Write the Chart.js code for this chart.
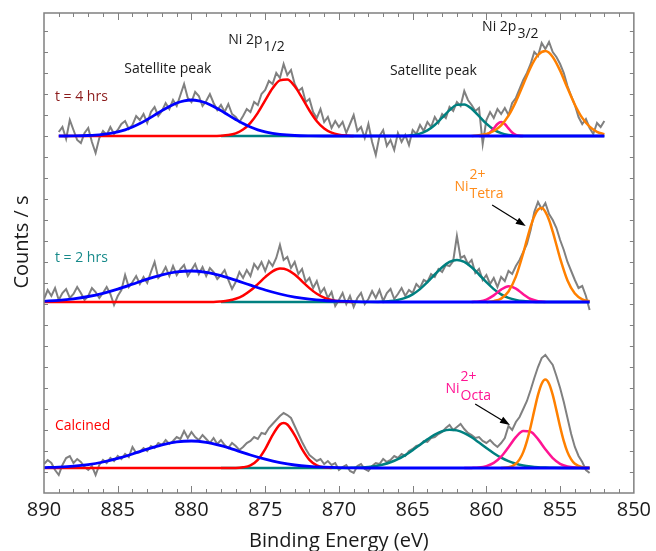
<!DOCTYPE html>
<html>
<head>
<meta charset="utf-8">
<title>Ni 2p XPS</title>
<script src="https://cdn.jsdelivr.net/npm/chart.js@4.4.1/dist/chart.umd.min.js"></script>
<style>
  body { margin: 0; background: #fff; }
  canvas { display: block; }
</style>
</head>
<body>
<canvas id="xpsChart" width="656" height="551"></canvas>
<script>
// Binding energies of the measured points (eV), 0.25 eV steps
var energyTop = [889, 888.75, 888.5, 888.25, 888, 887.75, 887.5, 887.25, 887, 886.75, 886.5, 886.25, 886, 885.75, 885.5, 885.25, 885, 884.75, 884.5, 884.25, 884, 883.75, 883.5, 883.25, 883, 882.75, 882.5, 882.25, 882, 881.75, 881.5, 881.25, 881, 880.75, 880.5, 880.25, 880, 879.75, 879.5, 879.25, 879, 878.75, 878.5, 878.25, 878, 877.75, 877.5, 877.25, 877, 876.75, 876.5, 876.25, 876, 875.75, 875.5, 875.25, 875, 874.75, 874.5, 874.25, 874, 873.75, 873.5, 873.25, 873, 872.75, 872.5, 872.25, 872, 871.75, 871.5, 871.25, 871, 870.75, 870.5, 870.25, 870, 869.75, 869.5, 869.25, 869, 868.75, 868.5, 868.25, 868, 867.75, 867.5, 867.25, 867, 866.75, 866.5, 866.25, 866, 865.75, 865.5, 865.25, 865, 864.75, 864.5, 864.25, 864, 863.75, 863.5, 863.25, 863, 862.75, 862.5, 862.25, 862, 861.75, 861.5, 861.25, 861, 860.75, 860.5, 860.25, 860, 859.75, 859.5, 859.25, 859, 858.75, 858.5, 858.25, 858, 857.75, 857.5, 857.25, 857, 856.75, 856.5, 856.25, 856, 855.75, 855.5, 855.25, 855, 854.75, 854.5, 854.25, 854, 853.75, 853.5, 853.25, 853, 852.75, 852.5, 852.25, 852];
var energyLow = [890, 889.75, 889.5, 889.25, 889, 888.75, 888.5, 888.25, 888, 887.75, 887.5, 887.25, 887, 886.75, 886.5, 886.25, 886, 885.75, 885.5, 885.25, 885, 884.75, 884.5, 884.25, 884, 883.75, 883.5, 883.25, 883, 882.75, 882.5, 882.25, 882, 881.75, 881.5, 881.25, 881, 880.75, 880.5, 880.25, 880, 879.75, 879.5, 879.25, 879, 878.75, 878.5, 878.25, 878, 877.75, 877.5, 877.25, 877, 876.75, 876.5, 876.25, 876, 875.75, 875.5, 875.25, 875, 874.75, 874.5, 874.25, 874, 873.75, 873.5, 873.25, 873, 872.75, 872.5, 872.25, 872, 871.75, 871.5, 871.25, 871, 870.75, 870.5, 870.25, 870, 869.75, 869.5, 869.25, 869, 868.75, 868.5, 868.25, 868, 867.75, 867.5, 867.25, 867, 866.75, 866.5, 866.25, 866, 865.75, 865.5, 865.25, 865, 864.75, 864.5, 864.25, 864, 863.75, 863.5, 863.25, 863, 862.75, 862.5, 862.25, 862, 861.75, 861.5, 861.25, 861, 860.75, 860.5, 860.25, 860, 859.75, 859.5, 859.25, 859, 858.75, 858.5, 858.25, 858, 857.75, 857.5, 857.25, 857, 856.75, 856.5, 856.25, 856, 855.75, 855.5, 855.25, 855, 854.75, 854.5, 854.25, 854, 853.75, 853.5, 853.25, 853];

// Measured counts above each spectrum's own baseline
var countsT4 = [4, 9, -3, 16, 6, -4, -7, 3, 8, -6, -17, -2, 5, 1, 9, 2, 6, 12, 15, 7, 11, 20, 16, 22, 13, 24, 29, 20, 25, 33, 27, 36, 30, 41, 52, 38, 34, 44, 40, 30, 35, 42, 33, 26, 31, 24, 32, 22, 19, 14, 20, 27, 24, 34, 31, 42, 46, 55, 52, 63, 58, 72, 61, 66, 52, 45, 48, 34, 37, 24, 18, 27, 14, 19, 8, 15, 9, 14, 3, 12, 21, 5, 9, -2, 12, -6, -19, 0, 6, -10, -4, -14, 3, -6, 1, -9, 6, 2, 11, 5, 14, 9, 19, 13, 22, 18, 29, 25, 34, 30, 45, 36, 31, 25, 28, -8, 16, 24, 18, 27, 22, 28, 21, 33, 38, 47, 56, 63, 72, 84, 80, 93, 87, 94, 84, 79, 72, 63, 50, 40, 31, 19, 12, 17, 8, 2, 13, 9, 15];
var countsT2 = [3, 12, 6, 14, 2, 9, 13, 4, 8, 15, 9, 2, 6, 14, 10, 4, 9, 15, 8, -3, 6, 12, 27, 15, 20, 26, 18, 25, 19, 30, 40, 24, 28, 35, 26, 36, 27, 33, 37, 26, 32, 38, 28, 35, 26, 34, 30, 23, 27, 32, 22, 13, 20, 30, 24, 32, 26, 38, 33, 40, 31, 41, 36, 44, 57, 42, 45, 34, 40, 28, 33, 20, 24, 14, 21, 9, 14, 4, 10, -4, 2, 9, -2, 6, -5, 4, 9, -2, 3, 11, 4, 12, 1, 9, 13, 3, 8, 14, 6, 12, 9, 18, 14, 22, 20, 28, 25, 33, 30, 37, 36, 41, 66, 44, 46, 38, 42, 29, 33, 22, 27, 18, 24, 15, 25, 21, 31, 28, 36, 42, 50, 58, 72, 90, 100, 93, 99, 88, 82, 74, 62, 52, 40, 31, 22, 14, 16, 6, -8];
var countsCalc = [4, 8, 5, -2, -7, 3, 10, 12, 5, 9, 6, 1, -2, 2, -7, 3, 8, 5, 10, 7, 12, 9, 14, 11, 21, 15, 16, 20, 17, 22, 20, 25, 23, 28, 24, 27, 31, 29, 37, 30, 36, 31, 28, 33, 29, 25, 30, 24, 28, 23, 20, 25, 22, 18, 21, 25, 27, 31, 29, 35, 34, 40, 44, 48, 52, 55, 53, 50, 42, 34, 26, 19, 13, 10, 7, 9, 4, 7, 3, 5, -2, 1, 3, -3, -5, 2, 4, -1, -3, 2, 5, 4, 9, 6, 8, 12, 10, 14, 12, 17, 19, 22, 23, 27, 26, 30, 31, 34, 36, 40, 43, 38, 41, 44, 39, 35, 33, 30, 31, 27, 25, 28, 24, 21, 25, 30, 42, 38, 46, 51, 59, 67, 78, 90, 101, 110, 113, 108, 103, 92, 80, 66, 50, 34, 21, 12, 6, -2, -5];

// Vertical offset of each spectrum in the stack
var offsets = [357, 191, 25];

// Fitted components, t = 4 hrs
var t4SatAE = [889, 888, 887, 886.5, 886, 885.5, 885, 884.5, 884, 883.5, 883, 882.5, 882, 881.5, 881, 880.5, 880, 879.5, 879, 878.5, 878, 877.5, 877, 876.5, 876, 875.5, 875, 874.5, 874, 873, 872, 871, 852];
var t4SatA = [0, 0.1, 0.5, 0.9, 1.6, 2.6, 4.1, 6.2, 9.0, 12.4, 16.5, 20.9, 25.4, 29.6, 33.0, 35.2, 36.0, 35.2, 33.0, 29.6, 25.4, 20.9, 16.5, 12.4, 9.0, 6.2, 4.1, 2.6, 1.6, 0.5, 0.1, 0, 0];
var t4P12E = [889, 878.5, 878, 877.5, 877, 876.5, 876, 875.5, 875, 874.5, 874, 873.5, 873, 872.5, 872, 871.5, 871, 870.5, 870, 869.5, 869];
var t4P12 = [0, 0, 0.3, 1.0, 2.7, 6.4, 13.1, 23.1, 35.6, 47.7, 55.6, 56.4, 49.7, 38.2, 25.5, 14.8, 7.5, 3.3, 1.3, 0.4, 0];
var t4SatBE = [878, 865.5, 865, 864.5, 864, 863.5, 863, 862.5, 862, 861.5, 861, 860.5, 860, 859.5, 859, 858.5, 858, 857.5, 852];
var t4SatB = [0, 0, 0.9, 2.4, 5.6, 11.0, 18.3, 25.9, 31.1, 31.6, 27.2, 19.9, 12.3, 6.4, 2.9, 1.1, 0.4, 0, 0];
var t4OctE = [860.5, 860.25, 860, 859.75, 859.5, 859.25, 859, 858.75, 858.5, 858.25, 858, 857.75, 857.5];
var t4Oct = [0, 0.3, 1.2, 3.5, 7.6, 12.0, 14.0, 12.0, 7.6, 3.5, 1.2, 0.3, 0];
var t4TetE = [861, 860.5, 860, 859.5, 859, 858.5, 858, 857.5, 857, 856.5, 856, 855.5, 855, 854.5, 854, 853.5, 853, 852.5, 852];
var t4Tet = [0, 0.8, 2.1, 5.0, 10.7, 20.4, 34.4, 51.5, 68.6, 81.0, 85.0, 79.1, 65.4, 48.0, 31.3, 18.1, 9.3, 4.2, 1.7];

// Fitted components, t = 2 hrs
var t2SatAE = [890, 889, 888, 887, 886, 885, 884, 883, 882, 881, 880, 879, 878, 877, 876, 875, 874, 873, 872, 871, 870, 869, 868, 867, 853];
var t2SatA = [0.9, 1.7, 3.2, 5.5, 8.7, 12.9, 17.8, 22.8, 27.2, 30.1, 31.0, 29.7, 26.4, 21.8, 16.8, 12.0, 8.0, 4.9, 2.8, 1.5, 0.8, 0.3, 0.1, 0, 0];
var t2P12E = [890, 878.5, 878, 877.5, 877, 876.5, 876, 875.5, 875, 874.5, 874, 873.5, 873, 872.5, 872, 871.5, 871, 870.5, 870, 869.5, 869];
var t2P12 = [0, 0, 0.5, 1.4, 3.2, 6.4, 11.4, 17.9, 24.9, 30.7, 33.4, 32.2, 27.5, 20.7, 13.9, 8.2, 4.3, 2.0, 0.8, 0.3, 0];
var t2SatBE = [878, 867.5, 867, 866.5, 866, 865.5, 865, 864.5, 864, 863.5, 863, 862.5, 862, 861.5, 861, 860.5, 860, 859.5, 859, 858.5, 858, 857.5, 857, 856.5, 853];
var t2SatB = [0, 0, 0.4, 0.9, 2.1, 4.2, 7.7, 12.9, 19.8, 27.5, 34.8, 40.1, 42.0, 40.1, 34.8, 27.5, 19.8, 12.9, 7.7, 4.2, 2.1, 0.9, 0.4, 0, 0];
var t2OctE = [861, 860.5, 860, 859.5, 859, 858.5, 858, 857.5, 857, 856.5, 856];
var t2Oct = [0, 0.6, 2.4, 6.6, 12.4, 15.7, 13.4, 7.8, 3.0, 0.8, 0];
var t2TetE = [860, 859.5, 859, 858.5, 858, 857.5, 857.25, 857, 856.75, 856.5, 856.25, 856, 855.75, 855.5, 855.25, 855, 854.5, 854, 853.5, 853];
var t2Tet = [0, 0.9, 3.4, 10.5, 25.4, 48.9, 62.4, 75.3, 85.8, 92.3, 94.0, 90.2, 82.0, 70.3, 57.0, 43.7, 21.6, 8.5, 2.7, 0.7];

// Fitted components, calcined
var cSatAE = [890, 889, 888, 887, 886, 885, 884, 883, 882, 881, 880, 879, 878, 877, 876, 875, 874, 873, 872, 871, 870, 869, 868, 853];
var cSatA = [0.4, 0.9, 1.8, 3.4, 6.0, 9.6, 14.0, 18.8, 23.1, 26.1, 27.0, 25.6, 22.3, 17.8, 13.0, 8.8, 5.4, 3.0, 1.6, 0.8, 0.3, 0.1, 0, 0];
var cP12E = [890, 877, 876.5, 876, 875.5, 875, 874.5, 874, 873.75, 873.5, 873, 872.5, 872, 871.5, 871, 870.5];
var cP12 = [0, 0, 0.7, 2.7, 8.2, 18.9, 32.9, 43.5, 45.0, 43.5, 32.9, 18.9, 8.2, 2.7, 0.7, 0];
var cSatBE = [878, 869.5, 869, 868.5, 868, 867.5, 867, 866.5, 866, 865.5, 865, 864.5, 864, 863.5, 863, 862.5, 862, 861.5, 861, 860.5, 860, 859.5, 859, 858.5, 858, 857.5, 857, 856.5, 856, 855.5, 853];
var cSatB = [0, 0, 0.3, 0.6, 1.1, 2.0, 3.5, 5.7, 8.8, 12.9, 17.8, 23.2, 28.6, 33.4, 36.8, 38.3, 37.6, 34.9, 30.7, 25.4, 19.9, 14.8, 10.3, 6.8, 4.3, 2.5, 1.4, 0.7, 0.4, 0.2, 0];
var cOctE = [861.5, 861, 860.5, 860, 859.5, 859, 858.5, 858, 857.5, 857, 856.5, 856, 855.5, 855, 854.5, 854, 853.5, 853];
var cOct = [0, 0.1, 0.5, 1.9, 5.1, 11.4, 20.8, 30.8, 37.1, 36.3, 28.9, 18.7, 9.9, 4.2, 1.5, 0.4, 0.1, 0];
var cTetE = [859, 858.5, 858.25, 858, 857.75, 857.5, 857.25, 857, 856.75, 856.5, 856.25, 856, 855.75, 855.5, 855.25, 855, 854.75, 854.5, 854.25, 854, 853.5, 853];
var cTet = [0, 0.8, 1.9, 4.2, 8.6, 15.9, 26.9, 41.3, 57.6, 73.1, 84.3, 88.4, 84.3, 73.1, 57.6, 41.3, 26.9, 15.9, 8.6, 4.2, 0.8, 0.1];

var FONT = "'Open Sans', 'Noto Sans', sans-serif";

// component colours; lower order is drawn on top
var fitStyle = {
  satA: { color: "#0000ff", order: 0, width: 2.8 },
  p12: { color: "#ff0000", order: 1, width: 2.5 },
  tet: { color: "#ff8000", order: 2, width: 2.5 },
  oct: { color: "#ff1493", order: 3, width: 2.5 },
  satB: { color: "#008080", order: 4, width: 2.5 },
};

function toPoints(es, vs, base) {
  if (es.length !== vs.length) throw new Error("length mismatch " + es.length + " vs " + vs.length);
  return es.map(function (e, i) {
    return { x: e, y: vs[i] + base };
  });
}

var datasets = [];

function addSpectrum(es, counts, base, fits) {
  datasets.push({
    data: toPoints(es, counts, base),
    borderColor: "#808080",
    borderWidth: 2,
    pointRadius: 0,
    tension: 0,
    order: 5,
  });
  Object.keys(fits).forEach(function (k) {
    var f = fits[k];
    datasets.push({
      data: toPoints(f[0], f[1], base),
      borderColor: fitStyle[k].color,
      borderWidth: fitStyle[k].width,
      pointRadius: 0,
      cubicInterpolationMode: "monotone",
      order: fitStyle[k].order,
    });
  });
}

addSpectrum(energyTop, countsT4, offsets[0], {
  satB: [t4SatBE, t4SatB], oct: [t4OctE, t4Oct], tet: [t4TetE, t4Tet],
  p12: [t4P12E, t4P12], satA: [t4SatAE, t4SatA],
});
addSpectrum(energyLow, countsT2, offsets[1], {
  satB: [t2SatBE, t2SatB], oct: [t2OctE, t2Oct], tet: [t2TetE, t2Tet],
  p12: [t2P12E, t2P12], satA: [t2SatAE, t2SatA],
});
addSpectrum(energyLow, countsCalc, offsets[2], {
  satB: [cSatBE, cSatB], oct: [cOctE, cOct], tet: [cTetE, cTet],
  p12: [cP12E, cP12], satA: [cSatAE, cSatA],
});

// text placed in data units (eV, stacked counts)
var plainNotes = [
  ["Satellite peak", 884.55, 420, "#1a1a1a"],
  ["Satellite peak", 866.54, 418, "#1a1a1a"],
  ["t = 4 hrs", 889.26, 392, "#8b1a1a"],
  ["t = 2 hrs", 889.26, 231, "#178a8a"],
  ["Calcined", 889.26, 63, "#ff0000"],
];
var orbitalNotes = [
  ["Ni 2p", "1/2", 877.5, 449],
  ["Ni 2p", "3/2", 860.29, 462],
];
var ionNotes = [
  ["Tetra", 862.17, 302, "#ff8c1a", [859.61, 288, 857.33, 267]],
  ["Octa", 862.77, 100, "#ff1493", [860.76, 89, 858.4, 68]],
];

function arrow(ctx, x1, y1, x2, y2) {
  var ang = Math.atan2(y2 - y1, x2 - x1);
  ctx.strokeStyle = "#000";
  ctx.fillStyle = "#000";
  ctx.lineWidth = 1.2;
  ctx.beginPath();
  ctx.moveTo(x1, y1);
  ctx.lineTo(x2 - 6 * Math.cos(ang), y2 - 6 * Math.sin(ang));
  ctx.stroke();
  ctx.beginPath();
  ctx.moveTo(x2, y2);
  ctx.lineTo(x2 - 10 * Math.cos(ang) + 3.5 * Math.sin(ang), y2 - 10 * Math.sin(ang) - 3.5 * Math.cos(ang));
  ctx.lineTo(x2 - 10 * Math.cos(ang) - 3.5 * Math.sin(ang), y2 - 10 * Math.sin(ang) + 3.5 * Math.cos(ang));
  ctx.closePath();
  ctx.fill();
}

var decorations = {
  id: "decorations",
  afterDatasetsDraw: function (chart) {
    var ctx = chart.ctx;
    var a = chart.chartArea;
    var sx = chart.scales.x;
    var sy = chart.scales.y;
    ctx.save();

    // frame with inward ticks on every side
    ctx.strokeStyle = "#808080";
    ctx.lineWidth = 1.5;
    ctx.strokeRect(a.left, a.top, a.right - a.left, a.bottom - a.top);
    ctx.lineWidth = 1;
    ctx.beginPath();
    for (var e = 851; e < 890; e++) {
      var px = Math.round(sx.getPixelForValue(e)) + 0.5;
      var len = e % 5 === 0 ? 7 : 4;
      ctx.moveTo(px, a.bottom);
      ctx.lineTo(px, a.bottom - len);
      ctx.moveTo(px, a.top);
      ctx.lineTo(px, a.top + len);
    }
    for (var v = 21; v < 480; v += 21) {
      var py = Math.round(sy.getPixelForValue(v)) + 0.5;
      ctx.moveTo(a.left, py);
      ctx.lineTo(a.left + 4, py);
      ctx.moveTo(a.right, py);
      ctx.lineTo(a.right - 4, py);
    }
    ctx.stroke();

    // axis titles
    ctx.fillStyle = "#1a1a1a";
    ctx.font = "20px " + FONT;
    ctx.textAlign = "center";
    ctx.textBaseline = "alphabetic";
    ctx.fillText("Binding Energy (eV)", (a.left + a.right) / 2, 547);
    ctx.save();
    ctx.translate(22, 242);
    ctx.rotate(-Math.PI / 2);
    ctx.textBaseline = "middle";
    ctx.fillText("Counts / s", 0, 0);
    ctx.restore();

    // annotations
    ctx.textAlign = "left";
    ctx.textBaseline = "alphabetic";
    ctx.font = "14px " + FONT;
    plainNotes.forEach(function (n) {
      ctx.fillStyle = n[3];
      ctx.fillText(n[0], sx.getPixelForValue(n[1]), sy.getPixelForValue(n[2]));
    });
    orbitalNotes.forEach(function (n) {
      var x = sx.getPixelForValue(n[2]);
      var y = sy.getPixelForValue(n[3]);
      ctx.fillStyle = "#1a1a1a";
      ctx.fillText(n[0], x, y);
      ctx.fillText(n[1], x + ctx.measureText(n[0]).width + 1, y + 7);
    });
    ionNotes.forEach(function (n) {
      var x = sx.getPixelForValue(n[1]);
      var y = sy.getPixelForValue(n[2]);
      ctx.fillStyle = n[3];
      ctx.fillText("Ni", x, y);
      var x2 = x + ctx.measureText("Ni").width + 1;
      ctx.fillText("2+", x2, y - 12);
      ctx.fillText(n[0], x2, y + 7);
      var p = n[4];
      arrow(ctx, sx.getPixelForValue(p[0]), sy.getPixelForValue(p[1]),
        sx.getPixelForValue(p[2]), sy.getPixelForValue(p[3]));
    });
    ctx.restore();
  },
};

var ctx = document.getElementById("xpsChart").getContext("2d");

var myChart = new Chart(ctx, {
  type: "scatter",
  data: { datasets: datasets },
  options: {
    responsive: false,
    animation: false,
    showLine: true,
    events: [],
    layout: { padding: { left: 44, right: 17, top: 13, bottom: 0 } },
    plugins: { legend: { display: false }, tooltip: { enabled: false } },
    scales: {
      x: {
        type: "linear",
        reverse: true,
        min: 850,
        max: 890,
        ticks: { stepSize: 5, color: "#1a1a1a", font: { family: FONT, size: 20 }, padding: 5, maxRotation: 0 },
        grid: { display: false, drawTicks: false },
        border: { display: false },
        afterFit: function (s) { s.height = 58; },
      },
      y: { display: false, min: 0, max: 480 },
    },
  },
  plugins: [decorations],
});
</script>
</body>
</html>
